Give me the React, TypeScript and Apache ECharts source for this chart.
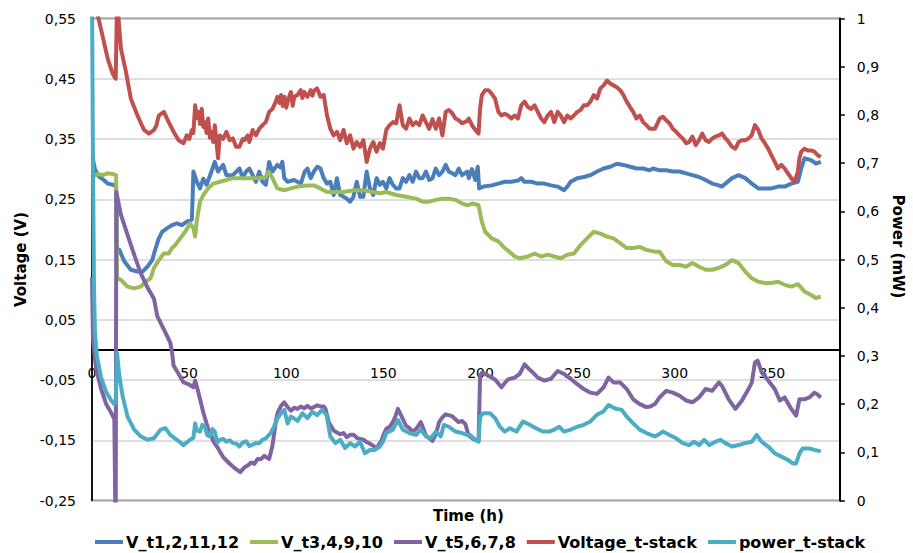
import React, { useEffect, useRef } from 'react';
import * as echarts from 'echarts';

// Tick definitions
const xTicks = [0, 50, 100, 150, 200, 250, 300, 350];
const xMax = 385;
const vMin = -0.25, vMax = 0.55, vStep = 0.1;
const pMin = 0, pMax = 1, pStep = 0.1;

const seriesNames = ['V_t1,2,11,12', 'V_t3,4,9,10', 'V_t5,6,7,8', 'Voltage_t-stack', 'power_t-stack'];

// [time (h), voltage (V)]
const vT1: [number, number][] = [
  [0.3, 0.32], [1.5, 0.300], [3.5, 0.288], [6, 0.282], [8.1, 0.276], [10.7, 0.274], [12.4, 0.272], [12.9, 0.168],
  [14.1, 0.166], [16.6, 0.147], [20, 0.133], [23.4, 0.130], [26, 0.130], [28.5, 0.138], [31, 0.149], [32.7, 0.168],
  [34.4, 0.185], [36.1, 0.196], [38.7, 0.202], [41.2, 0.207], [43.7, 0.210], [46.3, 0.207], [48.8, 0.213], [51.4, 0.216],
  [51.9, 0.262], [52.2, 0.296], [54, 0.279], [55.6, 0.268], [57.3, 0.284], [59, 0.274], [61.5, 0.296], [63.2, 0.312],
  [64.9, 0.296], [67.5, 0.307], [69.2, 0.290], [72.5, 0.290], [75.9, 0.301], [77.6, 0.285], [79.3, 0.296], [81, 0.301],
  [82.7, 0.290], [84.4, 0.279], [86.1, 0.296], [87.8, 0.279], [89.5, 0.274], [91.2, 0.312], [92.9, 0.296], [95.4, 0.307],
  [97, 0.303], [98, 0.312], [99, 0.285], [100.7, 0.279], [104, 0.282], [107.5, 0.276], [109.5, 0.296], [110.9, 0.301],
  [112.6, 0.285], [114.2, 0.296], [116, 0.304], [117.6, 0.301], [119.3, 0.285], [121, 0.276], [122.7, 0.279], [124.4, 0.257],
  [126.1, 0.285], [127.8, 0.257], [129.5, 0.254], [131.2, 0.251], [132.9, 0.246], [134.6, 0.254], [136.3, 0.279], [138, 0.254],
  [139.7, 0.254], [141.4, 0.296], [143.1, 0.268], [144.8, 0.257], [146.5, 0.285], [148.2, 0.274], [149.8, 0.279], [151.5, 0.268],
  [153.2, 0.285], [154.9, 0.274], [156.6, 0.268], [158.3, 0.268], [160, 0.285], [161.7, 0.279], [163.4, 0.290], [165.1, 0.279],
  [166.8, 0.296], [168.5, 0.285], [170.2, 0.285], [171.9, 0.296], [173.6, 0.282], [175.3, 0.285], [177, 0.301], [178.7, 0.290],
  [180.4, 0.296], [182.1, 0.307], [183.7, 0.296], [185.4, 0.293], [187.1, 0.290], [188.8, 0.301], [190.5, 0.290], [193.2, 0.296],
  [194, 0.285], [195.6, 0.300], [197.3, 0.282], [198.6, 0.304], [199.3, 0.268], [201.5, 0.271], [205.8, 0.273], [209.2, 0.276],
  [212.5, 0.279], [215.9, 0.279], [219.3, 0.281], [221, 0.285], [222.7, 0.279], [226.1, 0.279], [229.5, 0.276], [232.9, 0.276],
  [236.3, 0.273], [239.7, 0.271], [243, 0.265], [244.7, 0.271], [246.4, 0.279], [249.8, 0.285], [253.2, 0.287], [256.6, 0.290],
  [260, 0.296], [263.4, 0.301], [266.8, 0.304], [270.2, 0.309], [273.6, 0.307], [277, 0.304], [280.4, 0.301], [283.7, 0.301],
  [287.1, 0.298], [288.8, 0.301], [292.2, 0.298], [295.6, 0.298], [299, 0.296], [302.4, 0.296], [305.8, 0.293], [309.1, 0.290],
  [312.5, 0.287], [315.9, 0.282], [319.3, 0.276], [322.7, 0.273], [324.4, 0.271], [326.1, 0.276], [329.5, 0.285], [332.9, 0.290],
  [336.3, 0.285], [339.7, 0.276], [343, 0.268], [346.4, 0.268], [349.8, 0.268], [353.2, 0.271], [356.6, 0.271], [360, 0.276],
  [363.4, 0.279], [365.1, 0.301], [366.8, 0.318], [370.2, 0.315], [372.7, 0.309], [375.2, 0.312],
];

const vT3: [number, number][] = [
  [0.3, 0.288], [3, 0.292], [5.5, 0.290], [8, 0.293], [10.5, 0.292], [12.4, 0.290], [12.9, 0.120], [14.9, 0.116],
  [18.3, 0.105], [21.7, 0.102], [25.1, 0.105], [27.6, 0.113], [30.2, 0.119], [31.9, 0.136], [34.4, 0.149], [37, 0.160],
  [39.5, 0.160], [41.2, 0.169], [42.9, 0.174], [45.4, 0.185], [48, 0.196], [50.5, 0.210], [52.2, 0.202], [53.1, 0.188],
  [53.9, 0.213], [55.6, 0.246], [57.3, 0.257], [59.8, 0.268], [62.4, 0.276], [65.8, 0.279], [69.2, 0.282], [72.5, 0.285],
  [75.9, 0.285], [79.3, 0.285], [82.7, 0.285], [86.1, 0.285], [89.5, 0.287], [90.9, 0.296], [92.9, 0.285], [95.4, 0.268],
  [99, 0.265], [102.4, 0.268], [105.8, 0.271], [110.9, 0.273], [114.2, 0.273], [117.6, 0.268], [121, 0.262], [124.4, 0.262],
  [129.5, 0.262], [134.6, 0.265], [139.7, 0.265], [144.8, 0.262], [148.2, 0.260], [151.5, 0.262], [156.6, 0.257], [161.7, 0.254],
  [166.8, 0.251], [170.2, 0.246], [173.6, 0.246], [177, 0.249], [180.4, 0.251], [183.7, 0.251], [187.1, 0.249], [190.5, 0.243],
  [193.2, 0.240], [196, 0.243], [199, 0.240], [200.7, 0.213], [202.4, 0.196], [205.8, 0.185], [209.2, 0.180], [212.5, 0.169],
  [215.9, 0.160], [217.6, 0.155], [220.2, 0.152], [224.4, 0.155], [227.8, 0.160], [231.2, 0.155], [234.6, 0.158], [238, 0.155],
  [241.3, 0.152], [244.7, 0.158], [248.1, 0.160], [251.5, 0.174], [254.9, 0.185], [258.3, 0.196], [261.7, 0.193], [265.1, 0.188],
  [268.5, 0.185], [271.9, 0.177], [275.3, 0.169], [278.6, 0.169], [282, 0.171], [285.4, 0.166], [289.8, 0.163], [292.2, 0.163],
  [295.6, 0.147], [299, 0.141], [302.4, 0.141], [305.8, 0.138], [309.1, 0.144], [312.5, 0.138], [315.9, 0.133], [319.3, 0.133],
  [322.7, 0.136], [326.1, 0.141], [329.5, 0.149], [332.9, 0.144], [336.3, 0.130], [339.6, 0.119], [343, 0.113], [346.4, 0.111],
  [349.8, 0.111], [353.2, 0.113], [356.6, 0.108], [360, 0.105], [363.4, 0.109], [366.8, 0.097], [370.2, 0.091], [372.7, 0.086],
  [375.2, 0.089],
];

const vT5: [number, number][] = [
  [0, 0.12], [0.5, 0.02], [1.2, -0.005], [2.2, -0.032], [4.7, -0.065], [7.3, -0.090], [9.8, -0.104], [11.5, -0.115],
  [12.2, -0.32], [12.5, 0.262], [14.9, 0.224], [18.3, 0.191], [21.7, 0.158], [25.1, 0.127], [28.5, 0.104], [31.9, 0.085],
  [33.6, 0.056], [37, 0.034], [40.3, 0.012], [41.2, -0.004], [42, -0.026], [44.6, -0.040], [47.1, -0.054], [49.7, -0.057],
  [52.2, -0.062], [53.1, -0.051], [54.8, -0.071], [57.3, -0.104], [59.8, -0.131], [62.4, -0.151], [65, -0.164], [67.5, -0.178],
  [70.9, -0.189], [74.2, -0.198], [76.3, -0.203], [78.5, -0.195], [80.2, -0.192], [81.9, -0.187], [83.6, -0.189], [85.3, -0.181],
  [87, -0.181], [88.7, -0.176], [91.2, -0.181], [92.9, -0.159], [94.6, -0.120], [95.6, -0.104], [97.3, -0.093], [99, -0.087],
  [100.7, -0.095], [102.4, -0.101], [104.1, -0.096], [105.8, -0.098], [107.5, -0.094], [109.2, -0.097], [110.9, -0.093], [112.6, -0.097],
  [114.3, -0.095], [116, -0.092], [117.6, -0.094], [119.3, -0.094], [120.2, -0.098], [121.9, -0.120], [124.4, -0.134], [126.1, -0.137],
  [127.8, -0.140], [129.5, -0.138], [131.2, -0.145], [132.9, -0.141], [134.6, -0.141], [136.3, -0.146], [138, -0.148], [139.7, -0.149],
  [141.4, -0.153], [143.1, -0.156], [144.8, -0.159], [146.5, -0.164], [147.7, -0.157], [149, -0.151], [150.2, -0.140], [151.5, -0.131],
  [153.2, -0.128], [154.9, -0.120], [156.2, -0.110], [157.5, -0.098], [159.2, -0.109], [161.7, -0.126], [163.4, -0.130], [165.1, -0.136],
  [167.2, -0.130], [169.3, -0.120], [171.9, -0.142], [175.3, -0.151], [177, -0.140], [178.7, -0.120], [180.4, -0.112], [182.1, -0.107],
  [185.4, -0.110], [188.8, -0.120], [190.5, -0.118], [192.2, -0.123], [193.9, -0.142], [196.4, -0.148], [199, -0.151], [199.8, -0.043],
  [200.7, -0.038], [202.4, -0.040], [204.1, -0.043], [207.5, -0.049], [210.8, -0.062], [212.5, -0.055], [214.2, -0.049], [217.6, -0.046],
  [220.2, -0.040], [222.7, -0.024], [224.4, -0.030], [226.1, -0.035], [229.5, -0.046], [232.9, -0.051], [236.3, -0.048], [239.7, -0.035],
  [243, -0.040], [246.4, -0.048], [249.8, -0.057], [253.2, -0.065], [256.6, -0.071], [260, -0.073], [263.4, -0.062], [265.9, -0.046],
  [268.5, -0.054], [271.9, -0.054], [275.3, -0.065], [278.6, -0.082], [282, -0.090], [285.4, -0.095], [287.5, -0.094], [289.8, -0.090],
  [292.2, -0.079], [295.6, -0.068], [299, -0.071], [302.4, -0.076], [305.8, -0.084], [309.1, -0.087], [312.5, -0.079], [315.9, -0.065],
  [319.3, -0.068], [322.7, -0.054], [324.4, -0.060], [327.8, -0.082], [331.2, -0.098], [334.6, -0.084], [338, -0.065], [339.7, -0.054],
  [341.3, -0.021], [342.7, -0.018], [344.7, -0.037], [348.1, -0.051], [351.5, -0.065], [354.1, -0.084], [356.6, -0.079], [360, -0.098],
  [362.5, -0.109], [364.2, -0.082], [366.8, -0.082], [369.3, -0.079], [371.9, -0.071], [373.5, -0.074], [375.2, -0.079],
];

const vStack: [number, number][] = [
  [1.5, 0.62], [3.0, 0.555], [5.5, 0.52], [8.1, 0.483], [10.7, 0.458], [12.2, 0.450], [12.9, 0.58], [14.9, 0.500],
  [17.5, 0.461], [20, 0.417], [23.4, 0.389], [26.8, 0.365], [29.3, 0.359], [30.6, 0.362], [31.9, 0.365], [33.1, 0.372],
  [34.4, 0.389], [37, 0.395], [39.5, 0.378], [42, 0.362], [44.6, 0.348], [47.1, 0.343], [48.8, 0.356], [50.1, 0.350],
  [51.4, 0.365], [52.2, 0.360], [53.1, 0.406], [54, 0.385], [54.8, 0.395], [55.6, 0.375], [56.5, 0.400], [57.3, 0.370],
  [58.1, 0.378], [59, 0.360], [59.8, 0.384], [60.7, 0.352], [61.5, 0.362], [62.4, 0.345], [63.2, 0.373], [64.1, 0.345],
  [64.9, 0.318], [65.8, 0.356], [67.5, 0.350], [69.2, 0.362], [70.9, 0.348], [72.5, 0.351], [74.2, 0.337], [75.9, 0.337],
  [77.6, 0.350], [78.5, 0.348], [80.2, 0.356], [81, 0.345], [82.7, 0.365], [84.4, 0.356], [86.1, 0.367], [87.8, 0.373],
  [89.5, 0.378], [91.2, 0.395], [92.9, 0.400], [94.6, 0.412], [95.4, 0.420], [96.5, 0.410], [97.3, 0.423], [98.2, 0.405],
  [99, 0.420], [100, 0.402], [101, 0.416], [102.4, 0.428], [103.3, 0.405], [104.1, 0.420], [105.8, 0.423], [107.5, 0.431],
  [108.3, 0.418], [109.2, 0.428], [110.9, 0.420], [112.6, 0.431], [113.5, 0.422], [114.2, 0.430], [115.9, 0.434], [117.6, 0.420],
  [119.3, 0.423], [121, 0.389], [122.7, 0.367], [124.4, 0.356], [126.1, 0.362], [127.8, 0.348], [129.5, 0.365], [131.2, 0.343],
  [132.9, 0.356], [134.6, 0.334], [136.3, 0.345], [138, 0.337], [139.7, 0.348], [141.4, 0.312], [143.1, 0.334], [144.8, 0.345],
  [146.5, 0.329], [148.2, 0.343], [149.8, 0.334], [151.5, 0.365], [153.2, 0.373], [154.9, 0.378], [156.6, 0.376], [158.3, 0.406],
  [160, 0.373], [161.7, 0.367], [163.4, 0.384], [165.1, 0.373], [166.8, 0.378], [168.5, 0.373], [170.2, 0.389], [171.9, 0.378],
  [173.6, 0.367], [175.3, 0.383], [177, 0.367], [178.7, 0.384], [180.4, 0.356], [182.1, 0.395], [183.7, 0.398], [185.4, 0.393],
  [187.1, 0.384], [188.8, 0.381], [190.5, 0.376], [193.2, 0.380], [194, 0.384], [195.6, 0.373], [197.3, 0.365], [199, 0.359],
  [199.8, 0.400], [200.7, 0.423], [202.4, 0.431], [204.1, 0.431], [205.8, 0.425], [207.5, 0.417], [209.2, 0.395], [210.8, 0.389],
  [212.5, 0.392], [214.2, 0.389], [215.9, 0.384], [217.6, 0.389], [219.3, 0.384], [221, 0.406], [222.7, 0.412], [224.4, 0.403],
  [226.1, 0.400], [227.8, 0.406], [229.5, 0.395], [231.2, 0.384], [232.9, 0.378], [234.6, 0.389], [236.3, 0.395], [238, 0.378],
  [239.7, 0.395], [241.3, 0.389], [243, 0.378], [244.7, 0.389], [246.4, 0.384], [248.1, 0.389], [249.8, 0.395], [251.5, 0.398],
  [253.2, 0.406], [254.9, 0.406], [256.6, 0.412], [258.3, 0.423], [260, 0.417], [261.7, 0.434], [263.4, 0.439], [265.1, 0.447],
  [266.8, 0.442], [268.5, 0.439], [270.2, 0.436], [271.9, 0.431], [273.6, 0.423], [275.3, 0.412], [277, 0.403], [278.6, 0.395],
  [280.3, 0.384], [282, 0.389], [283.7, 0.378], [285.4, 0.373], [287.1, 0.367], [289.8, 0.367], [291, 0.375], [292.2, 0.384],
  [293.9, 0.387], [295.6, 0.381], [297.3, 0.376], [299, 0.367], [300.7, 0.362], [302.4, 0.356], [304.1, 0.351], [305.8, 0.343],
  [307.4, 0.345], [309.1, 0.354], [310.8, 0.340], [312.5, 0.348], [314.2, 0.359], [315.9, 0.348], [317.6, 0.345], [319.3, 0.351],
  [321, 0.354], [322.7, 0.356], [324.4, 0.359], [326.1, 0.351], [327.8, 0.345], [329.5, 0.337], [331.2, 0.334], [332.9, 0.345],
  [334.6, 0.348], [336.3, 0.348], [338, 0.351], [339.6, 0.356], [341.3, 0.373], [343, 0.365], [344.7, 0.351], [346.4, 0.343],
  [348.1, 0.334], [349.8, 0.323], [351.5, 0.312], [353.2, 0.301], [354.9, 0.307], [356.6, 0.301], [358.3, 0.293], [360, 0.285],
  [361.7, 0.279], [363.4, 0.296], [364.2, 0.318], [365.1, 0.329], [366.8, 0.334], [368.5, 0.331], [370.2, 0.331], [371.9, 0.329],
  [373.6, 0.323], [375.2, 0.320],
];

// [time (h), power (mW)]
const pStack: [number, number][] = [
  [0, 1.05], [0.5, 0.70], [1, 0.45], [1.5, 0.35], [2.5, 0.30], [4.7, 0.255], [7.3, 0.225], [9.8, 0.208],
  [11.5, 0.200], [12.2, 0.205], [12.9, 0.306], [14.1, 0.257], [15.8, 0.216], [18.3, 0.174], [21.7, 0.147], [25.1, 0.133],
  [28.5, 0.126], [31.9, 0.129], [35.3, 0.147], [37.8, 0.150], [40.3, 0.136], [43.7, 0.126], [47.1, 0.115], [50.5, 0.126],
  [52.2, 0.130], [53.1, 0.160], [54, 0.145], [55.6, 0.143], [56.8, 0.157], [58.1, 0.153], [59.4, 0.135], [60.7, 0.133],
  [62, 0.148], [63.2, 0.143], [64.5, 0.120], [65.8, 0.126], [67.5, 0.128], [69.2, 0.122], [70.9, 0.125], [72.5, 0.119],
  [74.2, 0.118], [75.9, 0.112], [77.6, 0.120], [79.3, 0.123], [81, 0.113], [82.7, 0.116], [84.4, 0.119], [86.1, 0.119],
  [87.8, 0.126], [89.5, 0.129], [92, 0.140], [93.7, 0.153], [95.6, 0.171], [97.3, 0.181], [99, 0.188], [100.7, 0.160],
  [102.4, 0.174], [104.1, 0.170], [105.8, 0.165], [108.3, 0.181], [110.9, 0.171], [113.4, 0.184], [115.9, 0.177], [118.5, 0.188],
  [120.7, 0.178], [122.7, 0.133], [125.3, 0.119], [127.8, 0.126], [130.3, 0.109], [132.9, 0.119], [135.4, 0.112], [138, 0.122],
  [140.5, 0.098], [143.1, 0.105], [145.6, 0.105], [148.2, 0.112], [149.8, 0.122], [151.5, 0.140], [154.9, 0.147], [157.5, 0.167],
  [160, 0.147], [163.4, 0.140], [166.8, 0.136], [169.3, 0.147], [171.9, 0.133], [174.4, 0.129], [177, 0.143], [179.5, 0.133],
  [181.2, 0.157], [183.7, 0.153], [187.1, 0.143], [190.5, 0.140], [193.2, 0.136], [194.7, 0.136], [197.3, 0.126], [199, 0.122],
  [199.8, 0.174], [201.5, 0.181], [204.9, 0.181], [207.5, 0.171], [210, 0.153], [212.5, 0.143], [215.1, 0.150], [218.5, 0.143],
  [221.9, 0.164], [225.3, 0.157], [228.6, 0.150], [232, 0.143], [235.4, 0.143], [238, 0.147], [240.5, 0.153], [243, 0.143],
  [246.4, 0.147], [249.8, 0.153], [253.2, 0.157], [256.6, 0.164], [260, 0.178], [263.4, 0.185], [265.9, 0.198], [269.3, 0.191],
  [272.7, 0.188], [275.3, 0.174], [278.6, 0.160], [282, 0.147], [285.4, 0.140], [289.8, 0.133], [291.3, 0.136], [293.9, 0.143],
  [297.3, 0.136], [300.7, 0.129], [304.1, 0.119], [307.4, 0.115], [310, 0.122], [312.5, 0.115], [315.1, 0.126], [317.8, 0.115],
  [321, 0.122], [323.6, 0.126], [326.1, 0.119], [329.5, 0.112], [332.9, 0.115], [336.3, 0.119], [339.7, 0.122], [342.2, 0.136],
  [344.7, 0.122], [348.1, 0.112], [351.5, 0.098], [354.9, 0.091], [358.3, 0.084], [360.8, 0.077], [362.5, 0.077], [364.2, 0.098],
  [365.9, 0.108], [369.3, 0.108], [371.9, 0.105], [375.2, 0.102],
];

const colors = ['#4A7EBB', '#9BBB59', '#8064A2', '#C0504D', '#4BACC6'];

export default function App() {
  const ref = useRef<HTMLDivElement>(null);
  useEffect(() => {
    const chart = echarts.init(ref.current!, null, { renderer: 'svg' });
    const font = 'DejaVu Sans';
    const lineW = 4;
    const seriesData = [vT1, vT3, vT5, vStack, pStack];
    chart.setOption({
      animation: false,
      backgroundColor: '#fff',
      textStyle: { fontFamily: font },
      grid: {
        left: 92, right: 63, top: 18.5, bottom: 52.5,
        show: true, borderColor: '#222', borderWidth: 1.5, backgroundColor: 'transparent',
      },
      legend: {
        left: 95, top: 534, padding: 0, icon: 'rect', itemWidth: 28, itemHeight: 4, itemGap: 11,
        textStyle: { fontFamily: font, fontSize: 16, fontWeight: 'bold', color: '#000', padding: [0, 0, 0, -2] },
        data: seriesNames,
      },
      graphic: [
        {
          type: 'text', left: 433, top: 508,
          style: { text: 'Time (h)', font: `bold 15px "${font}"`, fill: '#000' },
        },
      ],
      xAxis: {
        type: 'value', min: 0, max: xMax, interval: 50,
        axisLine: { onZero: true, onZeroAxisIndex: 0, lineStyle: { color: '#000', width: 1.8 } },
        axisTick: { show: false },
        splitLine: { show: false },
        axisLabel: {
          fontSize: 14, color: '#000', margin: -135, fontFamily: font,
          formatter: (v: number) => (xTicks.includes(v) ? String(v) : ''),
        },
      },
      yAxis: [
        {
          type: 'value', position: 'left', min: vMin, max: vMax, interval: vStep,
          name: 'Voltage (V)', nameLocation: 'middle', nameGap: 62,
          nameTextStyle: { fontFamily: font, fontSize: 15, fontWeight: 'bold', color: '#000' },
          axisLine: { show: true, lineStyle: { color: '#000', width: 1.5 } },
          axisTick: { show: false },
          splitLine: { show: true, lineStyle: { color: '#d4d4d4', width: 1.5 } },
          axisLabel: {
            fontSize: 14, color: '#000', margin: 16, fontFamily: font,
            formatter: (v: number) => v.toFixed(2).replace('.', ','),
          },
        },
        {
          type: 'value', position: 'right', min: pMin, max: pMax, interval: pStep,
          name: 'Power (mW)', nameLocation: 'middle', nameGap: 46, nameRotate: -90,
          nameTextStyle: { fontFamily: font, fontSize: 15, fontWeight: 'bold', color: '#000', padding: [0, 26, 0, 0] },
          axisLine: { show: true, lineStyle: { color: '#000', width: 2 } },
          axisTick: { show: true, inside: false, length: 5, lineStyle: { color: '#000', width: 1.5 } },
          splitLine: { show: false },
          axisLabel: {
            fontSize: 14, color: '#000', margin: 17, fontFamily: font,
            formatter: (v: number) => {
              const r = Math.round(v * 10) / 10;
              return r === 0 || r === 1 ? String(r) : r.toFixed(1).replace('.', ',');
            },
          },
        },
      ],
      series: seriesNames.map((name, i) => ({
        name,
        type: 'line',
        yAxisIndex: i === 4 ? 1 : 0,
        data: seriesData[i],
        symbol: 'none',
        showSymbol: false,
        clip: true,
        color: colors[i],
        lineStyle: { color: colors[i], width: lineW, join: 'round' },
      })),
    });
    return () => chart.dispose();
  }, []);
  return (
    <div
      ref={ref}
      style={{ position: 'fixed', left: 0, top: 0, width: 913, height: 553, background: '#fff' }}
    />
  );
}
